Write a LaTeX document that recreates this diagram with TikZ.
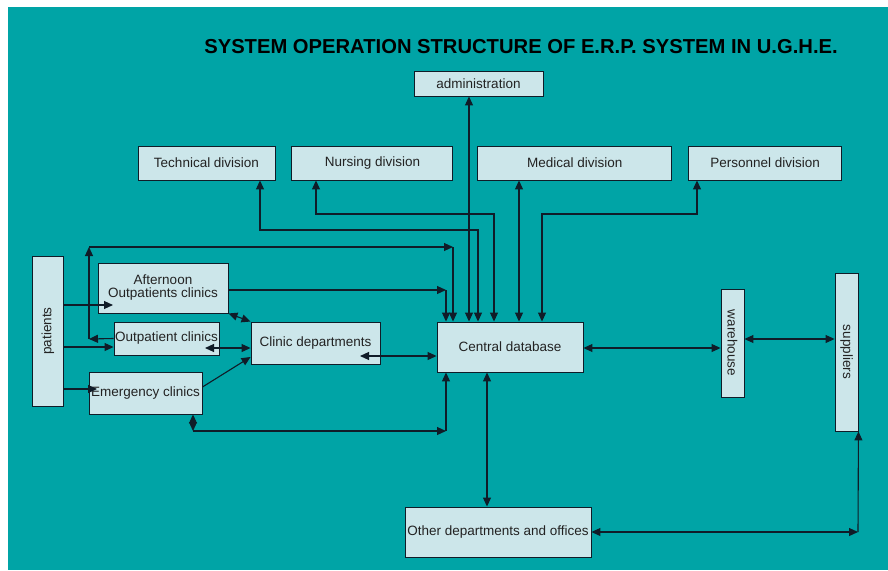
\documentclass[tikz,border=0pt]{standalone}
\usepackage{fontspec}
\setmainfont{Liberation Sans}
\usetikzlibrary{arrows.meta,positioning}
\definecolor{bgteal}{RGB}{0,164,166}
\definecolor{boxfill}{RGB}{204,230,234}
\definecolor{linecol}{RGB}{16,28,40}
\definecolor{textcol}{RGB}{34,34,34}

\begin{document}
\begin{tikzpicture}[x=1pt,y=-1pt,
 box/.style={draw=linecol,fill=boxfill,line width=0.9pt,inner sep=0pt,text=textcol,
  font=\fontsize{13.5}{15}\selectfont},
 tip/.style={draw=linecol,line width=1.1pt,-{Triangle[length=9pt,width=8pt]}},
 dbl/.style={draw=linecol,line width=1.1pt,{Triangle[length=9pt,width=8pt]}-{Triangle[length=9pt,width=8pt]}}]
 \useasboundingbox (0,0) rectangle (888,570);
 \fill[bgteal] (8,7) rectangle (888,570);
 \node[font=\fontsize{20.2}{22}\selectfont\bfseries] (title) at (521,47) {SYSTEM OPERATION STRUCTURE OF E.R.P. SYSTEM IN U.G.H.E.};
 \node[box,minimum width=129,minimum height=25] (admin) at (478.5,83.5) {administration};
 \node[box,minimum width=137,minimum height=34] (tech) at (206.5,163) {Technical division};
 \node[box,minimum width=161,minimum height=34,right=16 of tech] (nurs) {Nursing division};
 \node[box,minimum width=194,minimum height=34,right=24 of nurs] (med) {Medical division};
 \node[box,minimum width=153,minimum height=34,right=16 of med] (pers) {Personnel division};
 \node[box,minimum width=31,minimum height=150] (patients) at (48,331) {\rotatebox{90}{patients}};
 \node[box,minimum width=130,minimum height=50,align=center] (aft) at (163,288) {Afternoon\\[-2pt]Outpatients clinics};
 \node[box,minimum width=105,minimum height=33] (op) at (166.5,338.5) {Outpatient clinics};
 \node[box,minimum width=113,minimum height=42] (em) at (145.5,393) {Emergency clinics};
 \node[box,minimum width=129,minimum height=42] (clinic) at (315.5,343) {Clinic departments};
 \node[box,minimum width=146,minimum height=50] (central) at (510,347) {Central database};
 \node[box,minimum width=23,minimum height=108] (ware) at (732.5,343) {\rotatebox{-90}{warehouse}};
 \node[box,minimum width=23,minimum height=158] (sup) at (846.5,352) {\rotatebox{-90}{suppliers}};
 \node[box,minimum width=186,minimum height=50] (other) at (498,532) {Other departments and offices};

 \draw[dbl] (469,0 |- admin.south) -- (469,0 |- central.north);
 \draw[dbl] (260,0 |- tech.south) |- (478,230) -- (478,0 |- central.north);
 \draw[dbl] (316,0 |- nurs.south) |- (494,214) -- (494,0 |- central.north);
 \draw[dbl] (519,0 |- med.south) -- (519,0 |- central.north);
 \draw[dbl] (697,0 |- pers.south) |- (542,214) -- (542,0 |- central.north);

 \coordinate (o1) at (89,339);
 \coordinate (o2) at (89,247);
 \coordinate (o3) at (453,247);
 \draw[tip] (op.west) -- (o1);
 \draw[tip] (o1) -- (o2);
 \draw[tip] (o2) -- (o3);
 \draw[tip] (o3) -- (453,0 |- central.north);
 \coordinate (a1) at (446,290);
 \draw[tip] (aft.east |- 0,290) -- (a1);
 \draw[tip] (a1) -- (446,0 |- central.north);
 \coordinate (e1) at (193,431);
 \coordinate (e2) at (446,431);
 \draw[dbl] (193,0 |- em.south) -- (e1);
 \draw[tip] (e1) -- (e2);
 \draw[tip] (e2) -- (446,0 |- central.south);

 \draw[tip] (patients.east |- 0,305) -- (113,305);
 \draw[tip] (patients.east |- 0,347) -- (op.west |- 0,347);
 \draw[tip] (patients.east |- 0,389) -- (97,389);
 \draw[dbl] (205,348) -- (clinic.west |- 0,348);
 \draw[dbl] (aft.south east) -- (clinic.north west);
 \draw[tip] (em.east |- 0,387) -- (clinic.west |- 0,357);
 \draw[dbl] (360,356) -- (central.west |- 0,356);
 \draw[dbl] (central.east |- 0,348) -- (ware.west |- 0,348);
 \draw[dbl] (ware.east |- 0,339) -- (sup.west |- 0,339);
 \draw[dbl] (487,0 |- central.south) -- (487,0 |- other.north);
 \coordinate (s1) at (858,532);
 \draw[dbl] (other.east) -- (s1);
 \draw[tip] (s1) -- (sup.south east);
\end{tikzpicture}
\end{document}
